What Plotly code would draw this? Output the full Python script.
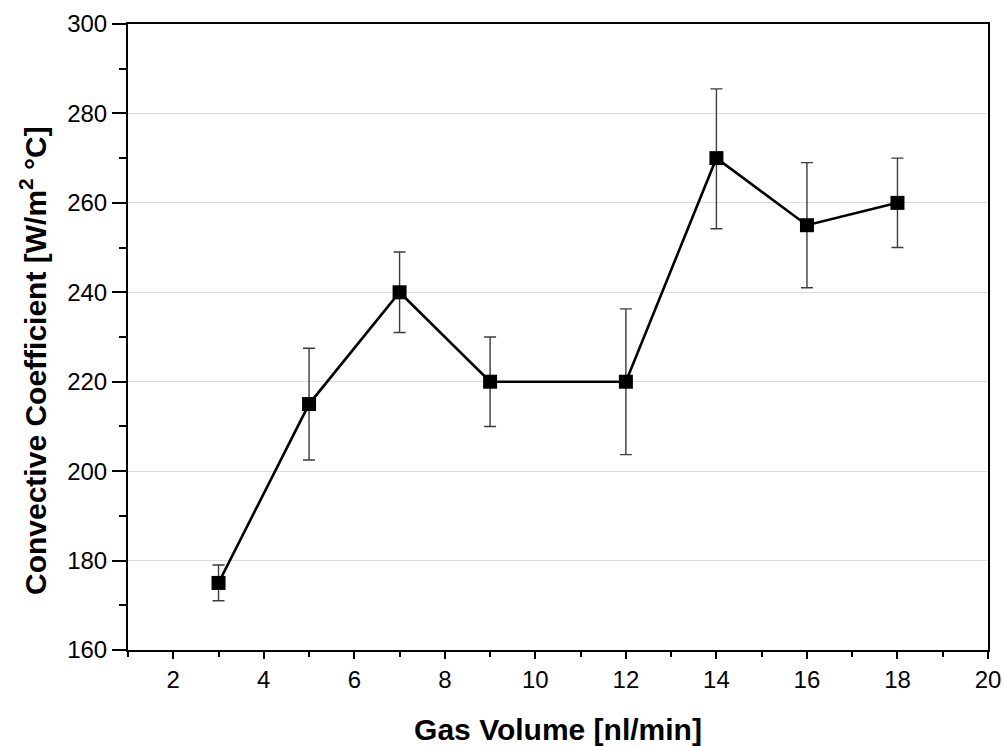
import plotly.graph_objects as go

gas_volume = [3, 5, 7, 9, 12, 14, 16, 18]
conv_coeff = [175, 215, 240, 220, 220, 270, 255, 260]
err_plus = [4, 12.5, 9, 10, 16.3, 15.5, 14, 10]
err_minus = [4, 12.5, 9, 10, 16.3, 15.8, 14, 10]

x_ticks = [2, 4, 6, 8, 10, 12, 14, 16, 18, 20]
y_ticks = [160, 180, 200, 220, 240, 260, 280, 300]

fig = go.Figure()
fig.add_trace(go.Scatter(
    x=gas_volume, y=conv_coeff, mode="lines+markers",
    line=dict(color="black", width=2.6),
    marker=dict(symbol="square", size=14, color="black"),
    error_y=dict(type="data", array=err_plus, arrayminus=err_minus, symmetric=False,
                 color="#3c3c3c", thickness=1.4, width=6),
    showlegend=False,
))

font_family = "Liberation Sans, Arial, sans-serif"
fig.update_layout(
    width=1004, height=746,
    margin=dict(l=128, r=16, t=24, b=96),
    paper_bgcolor="white", plot_bgcolor="white",
    font=dict(family=font_family, color="black"),
    xaxis=dict(
        range=[1, 20], tickvals=x_ticks, showgrid=False, zeroline=False, automargin=False,
        showline=True, linecolor="black", linewidth=2, mirror=True,
        ticks="outside", ticklen=7, tickwidth=2, tickcolor="black",
        minor=dict(ticks="outside", ticklen=5, tickwidth=2, tickcolor="black", dtick=1, showgrid=False),
        tickfont=dict(size=24),
        title=dict(text="<b>Gas Volume [nl/min]</b>", font=dict(size=30), standoff=30),
    ),
    yaxis=dict(
        range=[160, 300], tickvals=y_ticks, showgrid=True, gridcolor="#dcdcdc", gridwidth=1,
        zeroline=False, automargin=False,
        showline=True, linecolor="black", linewidth=2, mirror=True,
        ticks="outside", ticklen=14, tickwidth=2, tickcolor="black",
        minor=dict(ticks="outside", ticklen=7, tickwidth=2, tickcolor="black", dtick=10, showgrid=False),
        tickfont=dict(size=24),
    ),
    annotations=[dict(
        text="<b>Convective Coefficient [W/m<sup>2</sup> °C]</b>",
        xref="paper", yref="paper", x=0, y=0.5, xanchor="center", yanchor="middle",
        xshift=-95, yshift=-24, textangle=-90, showarrow=False,
        font=dict(size=30, family=font_family, color="black"),
    )],
)

fig.write_html("out.html")
